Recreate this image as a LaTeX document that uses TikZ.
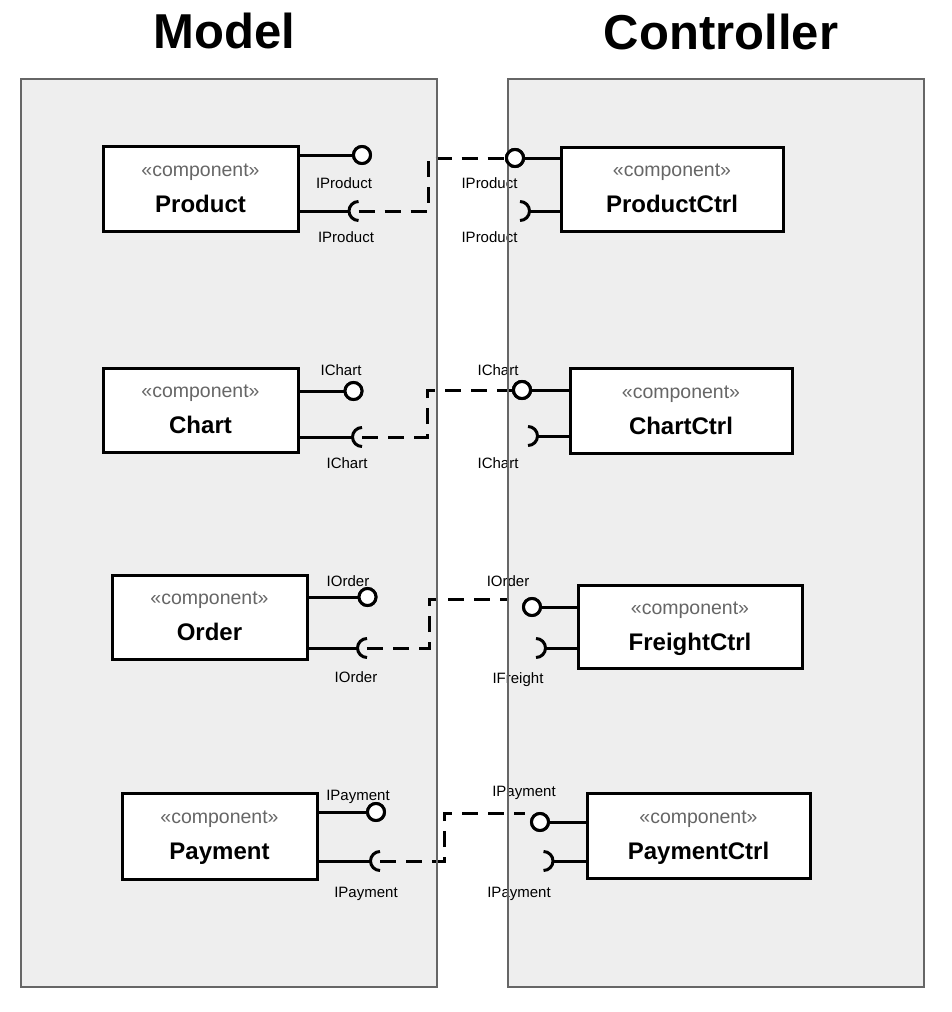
\documentclass[tikz,border=0pt]{standalone}
\usepackage{fontspec}
\setmainfont{Liberation Sans}
\usetikzlibrary{calc}
\definecolor{panelfill}{HTML}{EEEEEE}
\definecolor{panelline}{HTML}{666666}
\definecolor{stereogray}{HTML}{666666}
\tikzset{
  panelbg/.style={fill=panelfill, draw=none},
  panelborder/.style={draw=panelline, line width=1.5pt},
  compbox/.style={draw=black, fill=white, line width=3pt, inner sep=0pt},
  stereo/.style={anchor=base, text=stereogray, inner sep=0pt, font=\fontsize{19.5}{22}\selectfont},
  cname/.style={anchor=base, inner sep=0pt, font=\fontsize{24}{28}\selectfont\bfseries},
  iflabel/.style={anchor=base, inner sep=0pt, font=\fontsize{15}{18}\selectfont},
  title/.style={anchor=base, inner sep=0pt, font=\fontsize{49}{56}\selectfont\bfseries},
  conn/.style={draw=black, line width=3pt},
  dashconn/.style={draw=black, line width=3pt, dash pattern=on 16pt off 10pt},
  prov/.style={circle, draw=black, fill=white, line width=3pt, minimum size=17pt, inner sep=0pt},
}
\begin{document}
\begin{tikzpicture}[x=1pt,y=-1pt]
\useasboundingbox (0,0) rectangle (952,1012);
% titles
\node[title] (tM) at (224.5,48) {Model};
\node[title] (tC) at (721,49) {Controller};
% panel backgrounds
\fill[panelbg] (21,79) rectangle (437,987);
\fill[panelbg] (508,79) rectangle (924,987);

% ---------- coordinates ----------
% Product row
\coordinate (sP) at (358.5,211);
\coordinate (kP) at (428,184);
\coordinate (sPc) at (520,211);
% Chart row
\coordinate (sC) at (362,437);
\coordinate (kC) at (427,414);
\coordinate (sCc) at (528,436);
% Order row
\coordinate (sO) at (367,648);
\coordinate (kO) at (429,624);
\coordinate (eO) at (508,599);
\coordinate (sOc) at (536,648);
% Payment row
\coordinate (sY) at (380,861);
\coordinate (kY) at (444,837);
\coordinate (eY) at (525,813);
\coordinate (sYc) at (543.5,861);

% ---------- component boxes ----------
\node[compbox, minimum width=195pt, minimum height=85pt] (P)  at (200.5,188.5) {};
\node[compbox, minimum width=222pt, minimum height=84pt] (PC) at (672,189) {};
\node[compbox, minimum width=195pt, minimum height=84pt] (C)  at (200.5,410) {};
\node[compbox, minimum width=222pt, minimum height=85pt] (CC) at (681,410.5) {};
\node[compbox, minimum width=195pt, minimum height=84pt] (O)  at (209.5,617) {};
\node[compbox, minimum width=224pt, minimum height=83pt] (FC) at (690,626.5) {};
\node[compbox, minimum width=195pt, minimum height=86pt] (Y)  at (219.5,836) {};
\node[compbox, minimum width=223pt, minimum height=85pt] (YC) at (698.5,835.5) {};

% ---------- provided interface circles ----------
\node[prov] (pP)  at (362,155) {};
\node[prov] (pPc) at (515,158) {};
\node[prov] (pC)  at (353.5,391) {};
\node[prov] (pCc) at (522,390) {};
\node[prov] (pO)  at (367.5,597) {};
\node[prov] (pOc) at (532,607) {};
\node[prov] (pY)  at (376,812) {};
\node[prov] (pYc) at (540,822) {};

% ---------- dashed dependencies (under circles) ----------
\begin{scope}[on background layer/.style={}]
\end{scope}
\draw[dashconn] (sP) -| (kP) |- (pPc.west);
\draw[dashconn] (sC) -| (kC) |- (pCc.west);
\draw[dashconn] (sO) -| (kO) |- (eO);
\draw[dashconn] (sY) -| (kY) |- (eY);

% ---------- solid connectors ----------
\draw[conn] (pP)  -- (pP -| P.east);
\draw[conn] (pPc) -- (pPc -| PC.west);
\draw[conn] (pC)  -- (pC -| C.east);
\draw[conn] (pCc) -- (pCc -| CC.west);
\draw[conn] (pO)  -- (pO -| O.east);
\draw[conn] (pOc) -- (pOc -| FC.west);
\draw[conn] (pY)  -- (pY -| Y.east);
\draw[conn] (pYc) -- (pYc -| YC.west);

\draw[conn] ([xshift=-9.5pt]sP)  -- (sP -| P.east);
\draw[conn] ([xshift=9.5pt]sPc) -- (sPc -| PC.west);
\draw[conn] ([xshift=-9.5pt]sC)  -- (sC -| C.east);
\draw[conn] ([xshift=9.5pt]sCc) -- (sCc -| CC.west);
\draw[conn] ([xshift=-9.5pt]sO)  -- (sO -| O.east);
\draw[conn] ([xshift=9.5pt]sOc) -- (sOc -| FC.west);
\draw[conn] ([xshift=-9.5pt]sY)  -- (sY -| Y.east);
\draw[conn] ([xshift=9.5pt]sYc) -- (sYc -| YC.west);

% ---------- sockets ----------
\foreach \s in {sP,sC,sO,sY}{
  \draw[conn] (\s) ++(90:9.5pt) arc[start angle=90, end angle=270, radius=9.5pt];
}
\foreach \s in {sPc,sCc,sOc,sYc}{
  \draw[conn] (\s) ++(90:9.5pt) arc[start angle=90, end angle=-90, radius=9.5pt];
}

% redraw circles on top of lines
\foreach \c in {pP,pPc,pC,pCc,pO,pOc,pY,pYc}{
  \draw[prov] (\c) circle[radius=8.5pt];
}

% ---------- interface labels ----------
\node[iflabel] (lP1) at (344,188.5) {IProduct};
\node[iflabel] (lP2) at (346,242.5) {IProduct};
\node[iflabel] (lP3) at (489.5,188.5) {IProduct};
\node[iflabel] (lP4) at (489.5,242.5) {IProduct};
\node[iflabel] (lC1) at (341,375.5) {IChart};
\node[iflabel] (lC2) at (347,468.5) {IChart};
\node[iflabel] (lC3) at (498,375.5) {IChart};
\node[iflabel] (lC4) at (498,468.5) {IChart};
\node[iflabel] (lO1) at (348,586.5) {IOrder};
\node[iflabel] (lO2) at (356,682.5) {IOrder};
\node[iflabel] (lO3) at (508,586.5) {IOrder};
\node[iflabel] (lO4) at (518,683.5) {IFreight};
\node[iflabel] (lY1) at (358,800.5) {IPayment};
\node[iflabel] (lY2) at (366,897.5) {IPayment};
\node[iflabel] (lY3) at (524,796.5) {IPayment};
\node[iflabel] (lY4) at (519,897.5) {IPayment};

% ---------- panel borders ----------
\draw[panelborder] (21,79) rectangle (437,987);
\draw[panelborder] (508,79) rectangle (924,987);

% circles again above panel border
\foreach \c in {pPc,pCc}{
  \draw[prov] (\c) circle[radius=8.5pt];
}

% ---------- component texts ----------
\foreach \b/\n in {P/Product, PC/ProductCtrl, C/Chart, CC/ChartCtrl, O/Order, FC/FreightCtrl, Y/Payment, YC/PaymentCtrl}{
  \node[stereo] at ([yshift=12.5pt]\b.center) {«component»};
  \node[cname] at ([yshift=-23.5pt]\b.center) {\n};
}
\end{tikzpicture}
\end{document}
